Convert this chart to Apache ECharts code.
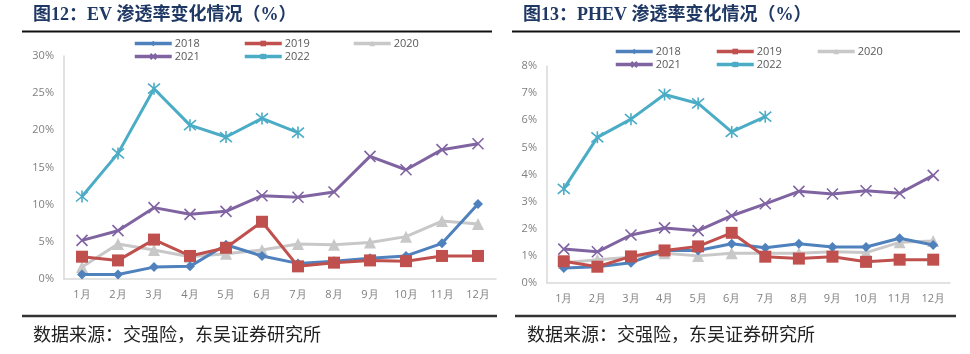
<!DOCTYPE html>
<html>
<head>
<meta charset="utf-8">
<script src="https://cdn.jsdelivr.net/npm/echarts@6/dist/echarts.min.js"></script>
<style>
  html, body { margin: 0; padding: 0; background: #fff; }
  #main { width: 970px; height: 354px; }
</style>
</head>
<body>
<div id="main"></div>
<script>
const months = ['1月', '2月', '3月', '4月', '5月', '6月', '7月', '8月', '9月', '10月', '11月', '12月'];
const years = ['2018', '2019', '2020', '2021', '2022'];

// EV 渗透率 (%)
const ev2018 = [0.6, 0.6, 1.6, 1.7, 4.6, 3.1, 2.1, 2.4, 2.8, 3.1, 4.8, 10.1];
const ev2019 = [3.0, 2.5, 5.3, 3.1, 4.2, 7.7, 1.7, 2.2, 2.5, 2.4, 3.1, 3.1];
const ev2020 = [1.6, 4.7, 3.9, 3.0, 3.4, 3.9, 4.7, 4.6, 4.9, 5.7, 7.8, 7.4];
const ev2021 = [5.2, 6.5, 9.6, 8.7, 9.1, 11.2, 11.0, 11.7, 16.5, 14.7, 17.4, 18.2];
const ev2022 = [11.1, 16.9, 25.6, 20.7, 19.1, 21.6, 19.7];

// PHEV 渗透率 (%)
const phev2018 = [0.55, 0.6, 0.75, 1.2, 1.2, 1.45, 1.3, 1.45, 1.33, 1.33, 1.65, 1.4];
const phev2019 = [0.8, 0.6, 0.98, 1.2, 1.35, 1.85, 0.97, 0.9, 0.97, 0.78, 0.86, 0.86];
const phev2020 = [0.75, 0.86, 0.95, 1.1, 1.0, 1.1, 1.1, 1.1, 1.15, 1.12, 1.5, 1.55];
const phev2021 = [1.25, 1.15, 1.77, 2.03, 1.93, 2.48, 2.92, 3.38, 3.28, 3.4, 3.31, 3.97];
const phev2022 = [3.47, 5.37, 6.04, 6.95, 6.62, 5.57, 6.13];

const colors = ['#4F81BD', '#C0504D', '#C8C8C8', '#8064A2', '#4BACC6'];
const symbols = [
  'diamond',
  'rect',
  'triangle',
  'path://M0,0L10,10M10,0L0,10',
  'path://M0,0L10,10M10,0L0,10M5,-1L5,11'
];
const symbolSizes = [10, 12, 12, 11, 12];

const myChart = echarts.init(document.getElementById('main'));

function makeSeries(idx, dataList) {
  return dataList.map((d, i) => ({
    name: years[i],
    type: 'line',
    xAxisIndex: idx,
    yAxisIndex: idx,
    data: d,
    symbol: symbols[i],
    symbolSize: symbolSizes[i],
    showAllSymbol: true,
    lineStyle: { width: 3, color: colors[i] },
    itemStyle: { color: colors[i], borderColor: colors[i], borderWidth: i >= 3 ? 1.6 : 0 },
    z: i === 2 ? 1 : 2
  }));
}

const series = [
  ...makeSeries(0, [ev2018, ev2019, ev2020, ev2021, ev2022]),
  ...makeSeries(1, [phev2018, phev2019, phev2020, phev2021, phev2022])
];

// one legend per item so the spacing follows the picture
const legendPos = [
  [[133, 45], [243, 45], [352, 45], [133, 58], [243, 58]],
  [[614, 53], [715, 53], [816, 53], [614, 66], [715, 66]]
];
const legends = [];
legendPos.forEach((row) => {
  row.forEach((p, i) => {
    legends.push({
      data: [years[i]],
      left: p[0],
      top: p[1] - 7,
      padding: 0,
      itemWidth: 37,
      itemHeight: 7,
      itemGap: 0,
      selectedMode: false,
      lineStyle: { width: 3.5 },
      textStyle: { color: '#595959', fontSize: 11, fontFamily: 'Open Sans', padding: [0, 0, 0, -2] }
    });
  });
});

const axisLabel = { color: '#7F7F7F', fontSize: 11, fontFamily: 'Open Sans' };
const axisLine = { show: true, lineStyle: { color: '#D9D9D9', width: 1.5 } };

const titleStyle = {
  fontSize: 18,
  fontWeight: 'bold',
  fontFamily: '"Liberation Serif", "Noto Sans CJK SC"',
  fill: '#1F3864'
};
const sourceStyle = {
  fontSize: 18,
  fontFamily: '"Noto Sans CJK SC"',
  fill: '#222'
};

myChart.setOption({
  animation: false,
  color: colors,
  grid: [
    { left: 64, top: 56, width: 432, height: 223 },
    { left: 547, top: 66, width: 403, height: 217 }
  ],
  legend: legends,
  xAxis: [0, 1].map((i) => ({
    type: 'category',
    gridIndex: i,
    data: months,
    boundaryGap: true,
    axisLine: axisLine,
    axisTick: { show: false },
    axisLabel: Object.assign({ margin: 10, interval: 0 }, axisLabel)
  })),
  yAxis: [
    {
      type: 'value', gridIndex: 0, min: 0, max: 30, interval: 5,
      axisLine: axisLine, axisTick: { show: false }, splitLine: { show: false },
      axisLabel: Object.assign({ margin: 10, formatter: '{value}%' }, axisLabel)
    },
    {
      type: 'value', gridIndex: 1, min: 0, max: 8, interval: 1,
      axisLine: axisLine, axisTick: { show: false }, splitLine: { show: false },
      axisLabel: Object.assign({ margin: 10, formatter: '{value}%' }, axisLabel)
    }
  ],
  graphic: [
    { type: 'text', left: 33, top: 6, style: Object.assign({ text: '图12：EV 渗透率变化情况（%）' }, titleStyle) },
    { type: 'text', left: 523, top: 6, style: Object.assign({ text: '图13：PHEV 渗透率变化情况（%）' }, titleStyle) },
    { type: 'line', shape: { x1: 22, y1: 31.5, x2: 492, y2: 31.5 }, style: { stroke: '#111', lineWidth: 2 } },
    { type: 'line', shape: { x1: 512, y1: 31.5, x2: 960, y2: 31.5 }, style: { stroke: '#111', lineWidth: 2 } },
    { type: 'line', shape: { x1: 22, y1: 316, x2: 497, y2: 316 }, style: { stroke: '#333', lineWidth: 2.5 } },
    { type: 'line', shape: { x1: 515, y1: 316, x2: 956, y2: 316 }, style: { stroke: '#333', lineWidth: 2.5 } },
    { type: 'text', left: 33, top: 325, style: Object.assign({ text: '数据来源：交强险，东吴证券研究所' }, sourceStyle) },
    { type: 'text', left: 527, top: 325, style: Object.assign({ text: '数据来源：交强险，东吴证券研究所' }, sourceStyle) }
  ],
  series: series
});
</script>
</body>
</html>
